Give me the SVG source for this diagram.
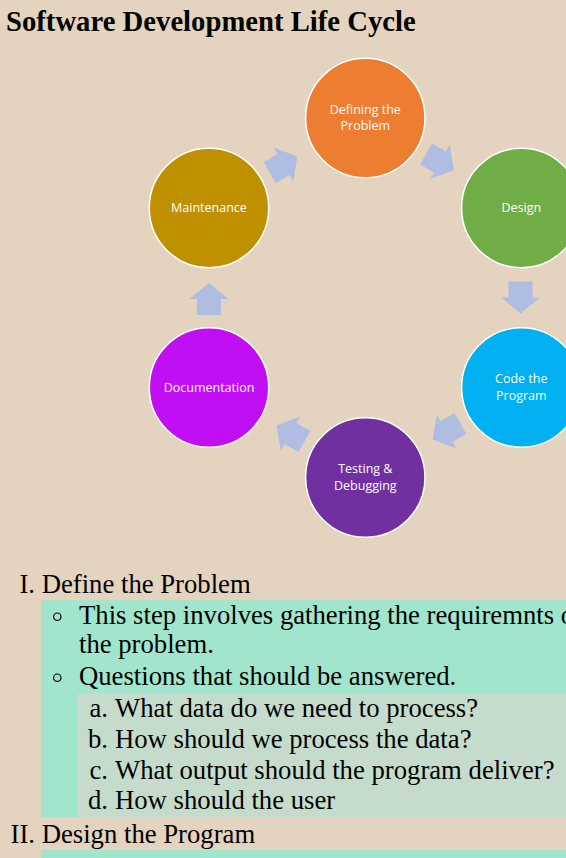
<svg xmlns="http://www.w3.org/2000/svg" xmlns:xlink="http://www.w3.org/1999/xlink" width="566" height="858" viewBox="0 0 566 858">
<style>
.title{font-family:"Liberation Serif","Times New Roman",serif;font-weight:bold;font-size:28.7px;fill:#000}
.body{font-family:"Liberation Serif","Times New Roman",serif;font-size:26.7px;fill:#000}
.lbl{font-family:"Open Sans","Noto Sans",sans-serif;font-size:12.5px;fill:#fff;text-anchor:middle}
.node{stroke:#fff;stroke-width:1.5}
.arrow{fill:#AFBDE3}
.bullet{fill:none;stroke:#000;stroke-width:1.2}
</style>
<defs>
<polygon id="blk" points="-16,-12 0,-12 0,-19.5 16,0 0,19.5 0,12 -16,12"/>
</defs>
<rect width="566" height="858" fill="#E3D3BF"/>
<text class="title" x="6" y="31">Software Development Life Cycle</text>

<g id="connectors" class="arrow">
<use xlink:href="#blk" transform="translate(283.5,164.5) rotate(-30)"/>
<use xlink:href="#blk" transform="translate(440,162) rotate(30)"/>
<use xlink:href="#blk" transform="translate(520.5,297.5) rotate(90)"/>
<use xlink:href="#blk" transform="translate(446.5,431.5) rotate(150)"/>
<use xlink:href="#blk" transform="translate(290.5,433.5) rotate(-150)"/>
<use xlink:href="#blk" transform="translate(209,299) rotate(-90)"/>
</g>

<g id="n-define">
<circle class="node" cx="365.3" cy="118" r="59.7" fill="#ED7D31"/>
<text class="lbl" x="365.3" y="114">Defining the</text>
<text class="lbl" x="365.3" y="130">Problem</text>
</g>
<g id="n-design">
<circle class="node" cx="521.3" cy="208" r="59.7" fill="#70AD47"/>
<text class="lbl" x="521.3" y="212">Design</text>
</g>
<g id="n-code">
<circle class="node" cx="521.3" cy="387.5" r="59.7" fill="#00B0F0"/>
<text class="lbl" x="521.3" y="383">Code the</text>
<text class="lbl" x="521.3" y="399.5">Program</text>
</g>
<g id="n-testing">
<circle class="node" cx="365.3" cy="477.5" r="59.7" fill="#7030A0"/>
<text class="lbl" x="365.3" y="473">Testing &amp;</text>
<text class="lbl" x="365.3" y="489.5">Debugging</text>
</g>
<g id="n-documentation">
<circle class="node" cx="209" cy="387.5" r="59.7" fill="#C00FF2"/>
<text class="lbl" x="209" y="391.5">Documentation</text>
</g>
<g id="n-maintenance">
<circle class="node" cx="209" cy="208" r="59.7" fill="#BF9000"/>
<text class="lbl" x="209" y="212">Maintenance</text>
</g>

<g id="outline">
<rect x="41" y="600" width="525" height="217" fill="#A1E6CC"/>
<rect x="77.3" y="693.3" width="488.7" height="123.7" fill="#C5DCCC"/>
<rect x="41" y="850" width="525" height="8" fill="#A1E6CC"/>
<text class="body" x="35" y="593" text-anchor="end">I.</text>
<text class="body" x="41.7" y="593">Define the Problem</text>
<circle class="bullet" cx="57.3" cy="616.7" r="3.7"/>
<text class="body" x="79" y="623.5">This step involves gathering the requiremnts of</text>
<text class="body" x="79" y="653">the problem.</text>
<circle class="bullet" cx="57.3" cy="677.7" r="3.7"/>
<text class="body" x="79" y="684.5">Questions that should be answered.</text>
<text class="body" x="108" y="716.5" text-anchor="end">a.</text>
<text class="body" x="115" y="716.5">What data do we need to process?</text>
<text class="body" x="108" y="747.5" text-anchor="end">b.</text>
<text class="body" x="115" y="747.5">How should we process the data?</text>
<text class="body" x="108" y="778.5" text-anchor="end">c.</text>
<text class="body" x="115" y="778.5">What output should the program deliver?</text>
<text class="body" x="108" y="809" text-anchor="end">d.</text>
<text class="body" x="115" y="809">How should the user</text>
<text class="body" x="35" y="842.5" text-anchor="end">II.</text>
<text class="body" x="41.7" y="842.5">Design the Program</text>
</g>
</svg>
